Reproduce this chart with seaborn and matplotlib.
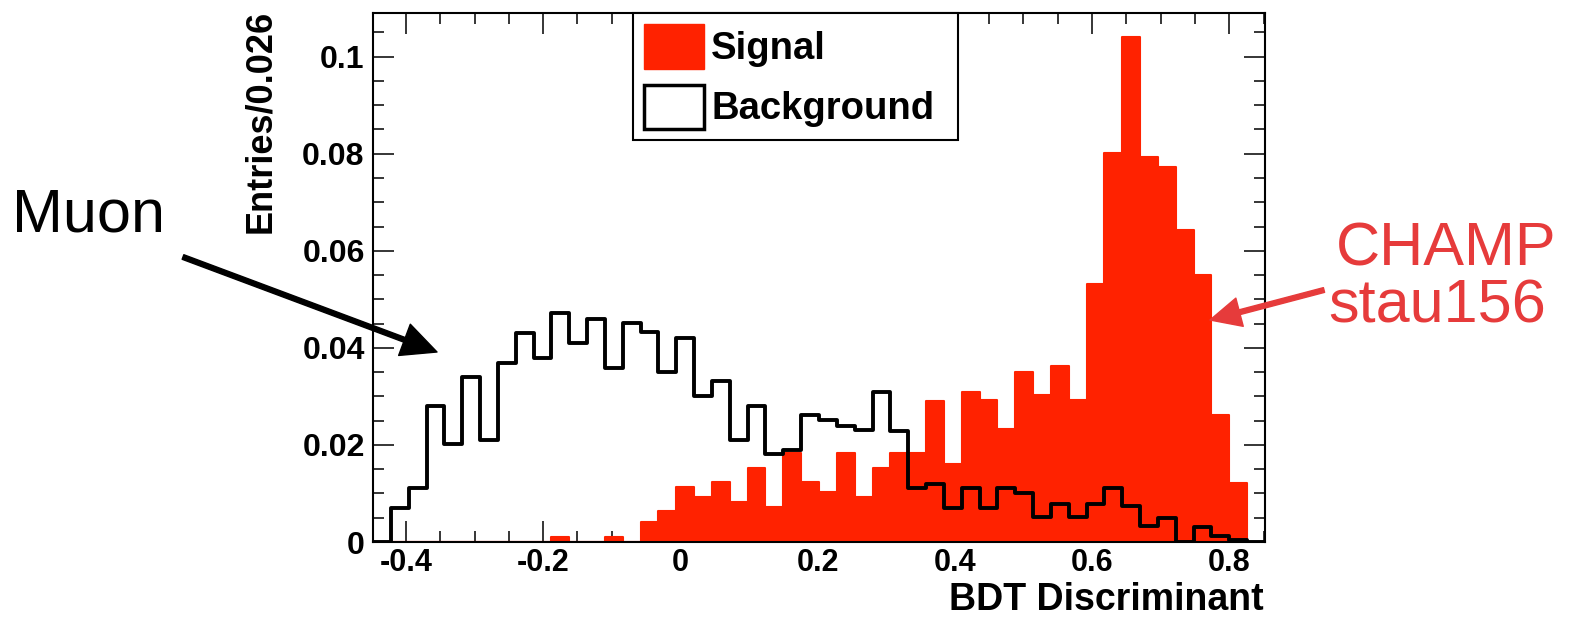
import numpy as np
import pandas as pd
import matplotlib
matplotlib.use("Agg")
import matplotlib.pyplot as plt
from matplotlib.patches import Patch
from matplotlib.ticker import AutoMinorLocator
import seaborn as sns

# BDT output binning: 50 bins of 0.026
x_low, x_high, n_bins = -0.448, 0.852, 50

# normalised bin contents (bin 0 .. bin 49)
signal = [0, 0, 0, 0, 0, 0, 0, 0, 0, 0,
          0.0011, 0, 0, 0.0011, 0, 0.0042, 0.0063, 0.0113, 0.0092, 0.0123,
          0.0083, 0.0152, 0.0073, 0.0183, 0.0124, 0.0104, 0.0183, 0.0092, 0.0152, 0.0183,
          0.0183, 0.0291, 0.0160, 0.0310, 0.0292, 0.0232, 0.0351, 0.0303, 0.0362, 0.0292,
          0.0531, 0.0802, 0.1041, 0.0793, 0.0773, 0.0642, 0.0551, 0.0262, 0.0122, 0]

background = [0, 0.0070, 0.0111, 0.0280, 0.0201, 0.0341, 0.0210, 0.0368, 0.0430, 0.0379,
              0.0471, 0.0411, 0.0459, 0.0359, 0.0451, 0.0432, 0.0351, 0.0420, 0.0300, 0.0331,
              0.0210, 0.0280, 0.0181, 0.0190, 0.0262, 0.0252, 0.0240, 0.0230, 0.0310, 0.0228,
              0.0112, 0.0120, 0.0070, 0.0111, 0.0070, 0.0111, 0.0100, 0.0052, 0.0078, 0.0052,
              0.0078, 0.0111, 0.0074, 0.0032, 0.0050, 0, 0.0031, 0.0013, 0.0004, 0]

x_ticks = [-0.4, -0.2, 0, 0.2, 0.4, 0.6, 0.8]
x_tick_labels = ["-0.4", "-0.2", "0", "0.2", "0.4", "0.6", "0.8"]
y_ticks = [0, 0.02, 0.04, 0.06, 0.08, 0.1]
y_tick_labels = ["0", "0.02", "0.04", "0.06", "0.08", "0.1"]

edges = np.linspace(x_low, x_high, n_bins + 1)
centers = (edges[:-1] + edges[1:]) / 2
df = pd.DataFrame({"bdt": centers, "signal": signal, "background": background})

sns.set_style("ticks")
plt.rcParams["font.family"] = ["Liberation Sans", "DejaVu Sans"]
plt.rcParams["text.color"] = "black"
plt.rcParams["axes.labelcolor"] = "black"
plt.rcParams["xtick.color"] = "black"
plt.rcParams["ytick.color"] = "black"

sig_red = "#ff2200"
note_red = "#e63b3b"

W, H = 1572, 618
fig = plt.figure(figsize=(W / 100, H / 100), dpi=100)
ax = fig.add_axes([373 / W, 1 - 542 / H, (1265 - 373) / W, (542 - 13) / H])

sns.histplot(data=df, x="bdt", weights="signal", bins=n_bins, binrange=(x_low, x_high),
             element="step", fill=True, color=sig_red, alpha=1, linewidth=1.5,
             edgecolor=sig_red, ax=ax)
sns.histplot(data=df, x="bdt", weights="background", bins=n_bins, binrange=(x_low, x_high),
             element="step", fill=False, color="black", linewidth=2.8, ax=ax)

ax.set_xlim(x_low, x_high)
ax.set_ylim(0, 0.109)
ax.set_xticks(x_ticks)
ax.set_xticklabels(x_tick_labels)
ax.set_yticks(y_ticks)
ax.set_yticklabels(y_tick_labels)
ax.xaxis.set_minor_locator(AutoMinorLocator(4))
ax.yaxis.set_minor_locator(AutoMinorLocator(4))
ax.tick_params(which="both", direction="in", top=True, right=True, width=1.1, color="black")
ax.tick_params(which="major", length=15)
ax.tick_params(which="minor", length=8)
ax.tick_params(axis="x", which="major", pad=4, labelsize=22)
ax.tick_params(axis="y", which="major", pad=6, labelsize=23)
for lab in ax.get_xticklabels() + ax.get_yticklabels():
    lab.set_fontweight("bold")
for sp in ax.spines.values():
    sp.set_linewidth(1.5)
    sp.set_color("black")

ax.set_xlabel("BDT Discriminant", fontsize=27, fontweight="bold", loc="right")
ax.xaxis.set_label_coords(0.998, -0.1276)
ax.xaxis.label.set_verticalalignment("baseline")
ax.set_ylabel("Entries/0.026", fontsize=26, fontweight="bold", loc="top")
ax.yaxis.set_label_coords(-0.106, 1.006)

handles = [Patch(facecolor=sig_red, edgecolor=sig_red),
           Patch(facecolor="white", edgecolor="black", linewidth=2.5)]
leg = ax.legend(handles, ["Signal", "Background"], loc="upper left",
                bbox_to_anchor=((633 - 373) / 892, 0.5, (958 - 633) / 892, 0.5),
                mode="expand", borderaxespad=0, fancybox=False, framealpha=1,
                edgecolor="black", prop={"weight": "bold", "size": 27.5},
                handlelength=1.55, handleheight=1.4, handletextpad=0.2,
                labelspacing=0.42, borderpad=0.3)
leg.get_frame().set_linewidth(1.5)

# annotations
fig.text(12 / W, 1 - 232 / H, "Muon", fontsize=44, va="baseline", ha="left")
fig.text(1336 / W, 1 - 266 / H, "CHAMP", fontsize=44, color=note_red, va="baseline", ha="left")
fig.text(1328 / W, 1 - 323 / H, "stau156", fontsize=44, color=note_red, va="baseline", ha="left")

ax.annotate("", xy=(437 / W, 1 - 352 / H), xycoords="figure fraction",
            xytext=(183 / W, 1 - 257 / H), textcoords="figure fraction",
            arrowprops=dict(width=3.5, headwidth=24, headlength=25, color="black", shrink=0))
ax.annotate("", xy=(1210 / W, 1 - 320 / H), xycoords="figure fraction",
            xytext=(1324 / W, 1 - 290 / H), textcoords="figure fraction",
            arrowprops=dict(width=3.5, headwidth=21, headlength=22, color=note_red, shrink=0))

fig.savefig("out.png", dpi=100)
